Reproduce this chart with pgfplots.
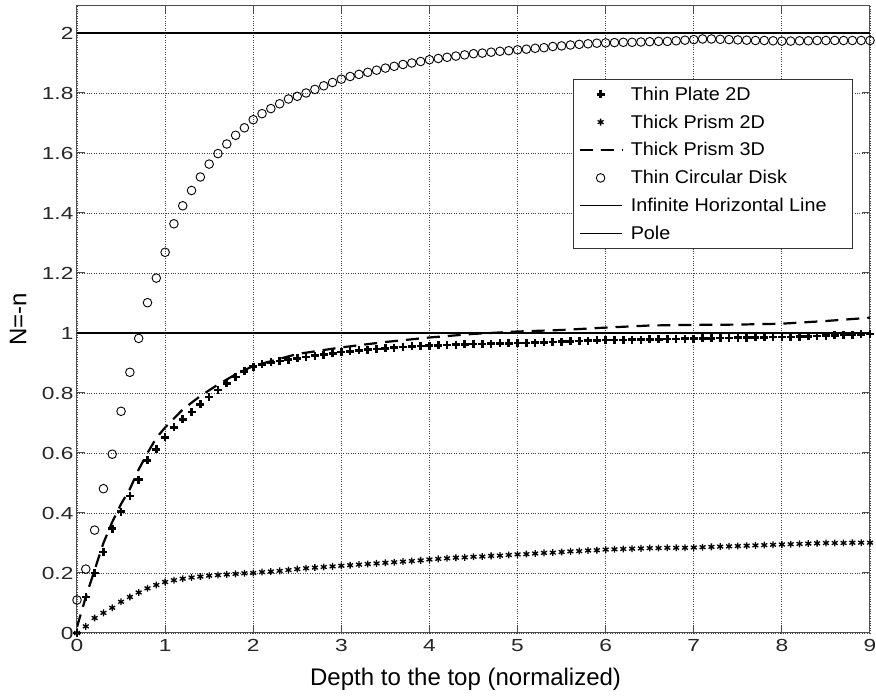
\documentclass[border=0pt]{standalone}
\usepackage{fontspec}
\setmainfont{Liberation Sans}
\newfontfamily\tickfont{Liberation Sans}[FakeStretch=1.3]
\newfontfamily\legfont{Liberation Sans}[FakeStretch=1.07]
\usepackage{pgfplots}
\pgfplotsset{compat=1.18}
\begin{document}
\begin{tikzpicture}
\useasboundingbox (-77pt,-63pt) rectangle (799pt,633pt);
\begin{axis}[
  scale only axis, width=793pt, height=627pt,
  xmin=0, xmax=9, ymin=0, ymax=2.09,
  xtick={0,1,...,9}, ytick={0,0.2,0.4,0.6,0.8,1,1.2,1.4,1.6,1.8,2},
  tick pos=both, tick align=inside, major tick length=8pt,
  /pgf/number format/assume math mode=true,
  ticklabel style={font=\tickfont\fontsize{17.5}{19}\selectfont, text=black!85},
  xticklabel style={yshift=-3pt},
  grid=major, major grid style={dotted, line width=0.9pt, black!75},
  axis line style={line width=1pt, black!70},
  every tick/.style={line width=1pt, black!70},
  xlabel={Depth to the top (normalized)},
  ylabel={N=-n},
  label style={font=\fontsize{24}{26}\selectfont},
  xlabel style={at={(rel axis cs:0.49,0)}, anchor=base, yshift=-53pt},
  ylabel style={at={(rel axis cs:0,0.5)}, anchor=center, yshift=59pt},
  legend style={at={(rel axis cs:0.9786,0.883)}, anchor=north east,
    font=\legfont\fontsize{18.5}{21}\selectfont, draw=black!80, line width=0.8pt,
    row sep=9pt, /tikz/column sep=6pt, inner xsep=5pt, inner ysep=5pt},
  legend cell align=left,
  legend image code/.code={\draw[mark repeat=2,mark phase=2,#1] plot coordinates {(0cm,0cm) (0.74cm,0cm) (1.48cm,0cm)};},
]
% Thin Plate 2D
\addplot[only marks, mark=+, mark size=4pt, mark options={line width=2.6pt}, black] coordinates {
(0.0,0.000)(0.1,0.120)(0.2,0.200)(0.3,0.270)(0.4,0.348)(0.5,0.404)(0.6,0.457)(0.7,0.511)(0.8,0.575)(0.9,0.612)
(1.0,0.652)(1.1,0.685)(1.2,0.712)(1.3,0.737)(1.4,0.762)(1.5,0.787)(1.6,0.810)(1.7,0.832)(1.8,0.853)(1.9,0.872)
(2.0,0.888)(2.1,0.895)(2.2,0.902)(2.3,0.906)(2.4,0.911)(2.5,0.915)(2.6,0.920)(2.7,0.924)(2.8,0.928)(2.9,0.932)
(3.0,0.936)(3.1,0.939)(3.2,0.942)(3.3,0.944)(3.4,0.947)(3.5,0.949)(3.6,0.951)(3.7,0.953)(3.8,0.955)(3.9,0.957)
(4.0,0.958)(4.1,0.959)(4.2,0.960)(4.3,0.961)(4.4,0.962)(4.5,0.963)(4.6,0.963)(4.7,0.964)(4.8,0.965)(4.9,0.965)
(5.0,0.966)(5.1,0.967)(5.2,0.968)(5.3,0.969)(5.4,0.970)(5.5,0.971)(5.6,0.972)(5.7,0.973)(5.8,0.974)(5.9,0.975)
(6.0,0.976)(6.1,0.977)(6.2,0.977)(6.3,0.978)(6.4,0.978)(6.5,0.979)(6.6,0.979)(6.7,0.980)(6.8,0.980)(6.9,0.981)
(7.0,0.981)(7.1,0.982)(7.2,0.982)(7.3,0.983)(7.4,0.983)(7.5,0.984)(7.6,0.984)(7.7,0.985)(7.8,0.985)(7.9,0.986)
(8.0,0.986)(8.1,0.987)(8.2,0.988)(8.3,0.989)(8.4,0.990)(8.5,0.991)(8.6,0.992)(8.7,0.993)(8.8,0.994)(8.9,0.995)
(9.0,0.997)};
\addlegendentry{Thin Plate 2D}
% Thick Prism 2D
\addplot[only marks, mark=asterisk, mark size=3.4pt, mark options={line width=1.3pt}, black] coordinates {
(0.0,0.000)(0.1,0.022)(0.2,0.050)(0.3,0.067)(0.4,0.084)(0.5,0.104)(0.6,0.120)(0.7,0.135)(0.8,0.149)(0.9,0.160)
(1.0,0.170)(1.1,0.176)(1.2,0.181)(1.3,0.185)(1.4,0.188)(1.5,0.191)(1.6,0.193)(1.7,0.195)(1.8,0.197)(1.9,0.199)
(2.0,0.200)(2.1,0.203)(2.2,0.205)(2.3,0.207)(2.4,0.210)(2.5,0.213)(2.6,0.216)(2.7,0.218)(2.8,0.220)(2.9,0.222)
(3.0,0.224)(3.1,0.226)(3.2,0.228)(3.3,0.230)(3.4,0.232)(3.5,0.234)(3.6,0.236)(3.7,0.238)(3.8,0.240)(3.9,0.242)
(4.0,0.245)(4.1,0.247)(4.2,0.249)(4.3,0.251)(4.4,0.252)(4.5,0.254)(4.6,0.255)(4.7,0.257)(4.8,0.258)(4.9,0.260)
(5.0,0.262)(5.1,0.263)(5.2,0.265)(5.3,0.267)(5.4,0.268)(5.5,0.270)(5.6,0.272)(5.7,0.273)(5.8,0.275)(5.9,0.276)
(6.0,0.278)(6.1,0.279)(6.2,0.280)(6.3,0.281)(6.4,0.282)(6.5,0.283)(6.6,0.283)(6.7,0.284)(6.8,0.284)(6.9,0.284)
(7.0,0.285)(7.1,0.286)(7.2,0.287)(7.3,0.288)(7.4,0.289)(7.5,0.290)(7.6,0.291)(7.7,0.292)(7.8,0.293)(7.9,0.294)
(8.0,0.295)(8.1,0.296)(8.2,0.297)(8.3,0.298)(8.4,0.299)(8.5,0.300)(8.6,0.300)(8.7,0.300)(8.8,0.301)(8.9,0.301)
(9.0,0.301)};
\addlegendentry{Thick Prism 2D}
% Thick Prism 3D
\addplot[black, line width=2.2pt, dash pattern=on 13pt off 8pt] coordinates {
(0.0,0.02)(0.1,0.12)(0.2,0.21)(0.3,0.30)(0.4,0.37)(0.5,0.43)(0.6,0.48)(0.7,0.545)(0.8,0.60)(0.9,0.65)
(1.0,0.685)(1.2,0.745)(1.4,0.79)(1.6,0.828)(1.8,0.862)(2.0,0.89)(2.5,0.93)(3.0,0.952)(3.5,0.97)(4.0,0.985)
(4.5,0.997)(5.0,1.005)(5.5,1.01)(6.0,1.018)(6.5,1.025)(7.0,1.027)(7.5,1.028)(8.0,1.031)(8.5,1.04)(9.0,1.051)};
\addlegendentry{Thick Prism 3D}
% Thin Circular Disk
\addplot[only marks, mark=o, mark size=4.3pt, mark options={line width=0.9pt}, black] coordinates {
(0.0,0.110)(0.1,0.213)(0.2,0.343)(0.3,0.481)(0.4,0.596)(0.5,0.739)(0.6,0.869)(0.7,0.982)(0.8,1.101)(0.9,1.183)
(1.0,1.269)(1.1,1.364)(1.2,1.424)(1.3,1.475)(1.4,1.520)(1.5,1.563)(1.6,1.598)(1.7,1.630)(1.8,1.659)(1.9,1.684)
(2.0,1.711)(2.1,1.731)(2.2,1.748)(2.3,1.764)(2.4,1.780)(2.5,1.789)(2.6,1.800)(2.7,1.812)(2.8,1.824)(2.9,1.835)
(3.0,1.846)(3.1,1.855)(3.2,1.862)(3.3,1.869)(3.4,1.876)(3.5,1.883)(3.6,1.889)(3.7,1.895)(3.8,1.900)(3.9,1.905)
(4.0,1.911)(4.1,1.915)(4.2,1.919)(4.3,1.923)(4.4,1.927)(4.5,1.931)(4.6,1.933)(4.7,1.936)(4.8,1.939)(4.9,1.941)
(5.0,1.944)(5.1,1.946)(5.2,1.949)(5.3,1.951)(5.4,1.955)(5.5,1.957)(5.6,1.960)(5.7,1.962)(5.8,1.964)(5.9,1.966)
(6.0,1.967)(6.1,1.968)(6.2,1.969)(6.3,1.969)(6.4,1.970)(6.5,1.971)(6.6,1.972)(6.7,1.972)(6.8,1.974)(6.9,1.976)
(7.0,1.978)(7.1,1.980)(7.2,1.980)(7.3,1.979)(7.4,1.978)(7.5,1.977)(7.6,1.976)(7.7,1.975)(7.8,1.975)(7.9,1.974)
(8.0,1.973)(8.1,1.973)(8.2,1.974)(8.3,1.974)(8.4,1.975)(8.5,1.975)(8.6,1.975)(8.7,1.975)(8.8,1.975)(8.9,1.975)
(9.0,1.975)};
\addlegendentry{Thin Circular Disk}
% Infinite Horizontal Line
\addplot[black, line width=1.8pt, legend image post style={line width=1pt}] coordinates {(0,1) (9,1)};
\addlegendentry{Infinite Horizontal Line\kern19pt\null}
% Pole
\addplot[black, line width=1.8pt, legend image post style={line width=1pt}] coordinates {(0,2) (9,2)};
\addlegendentry{Pole}
\end{axis}
\end{tikzpicture}
\end{document}
